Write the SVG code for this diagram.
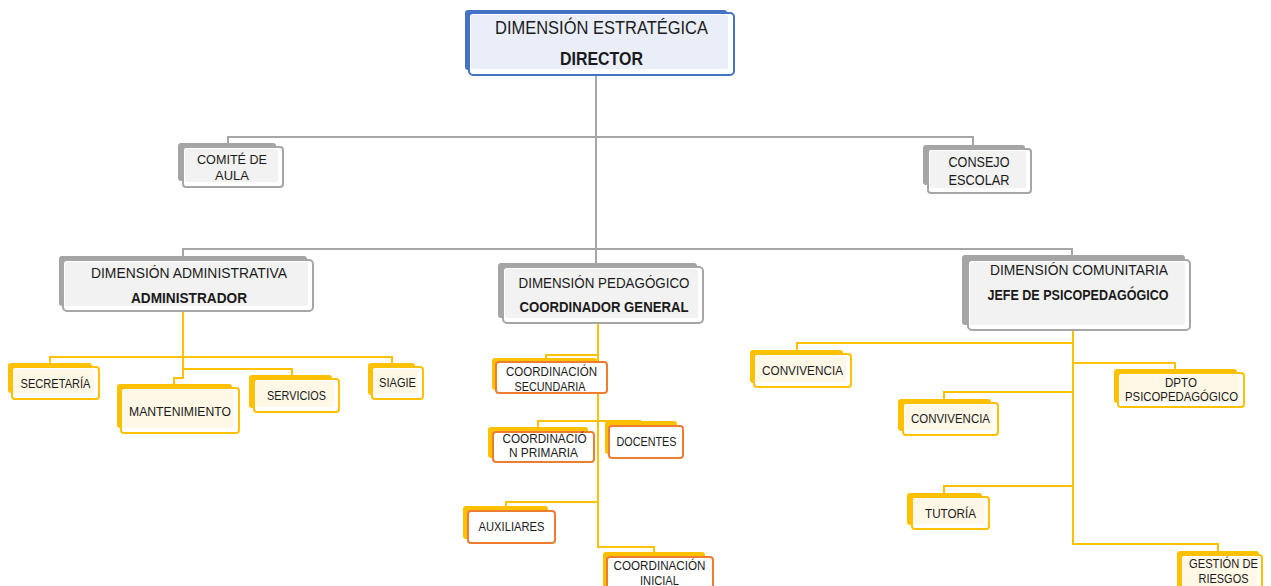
<svg xmlns="http://www.w3.org/2000/svg" width="1271" height="586" viewBox="0 0 1271 586">
<style>
.t{font-family:"Liberation Sans",Arial,sans-serif;fill:#1a1a1a;text-anchor:middle}
.s{font-size:13px}
.m{font-size:14.5px}
.l{font-size:18px}
.b{font-weight:bold}
.shg{fill:#A5A5A5}
.mng{fill:#fff;stroke:#A6A6A6;stroke-width:2}
.ing{fill:#F2F2F2}
.shy{fill:#FFC000}
.mny{fill:#fff;stroke:#FFC000;stroke-width:2}
.iny{fill:#FFF8E6}
.mno{fill:#fff;stroke:#ED7D31;stroke-width:2}
.shb{fill:#4472C4}
.mnb{fill:#fff;stroke:#4472C4;stroke-width:2}
.inb{fill:#E9EEF8}
.gl{fill:none;stroke:#A6A6A6;stroke-width:2}
.yl{fill:none;stroke:#FFC000;stroke-width:2}
</style>
<rect width="1271" height="586" fill="#fff"/>
<g id="connectors">
<path class="gl" d="M596 75V263"/>
<path class="gl" d="M228 143V137H973V145"/>
<path class="gl" d="M183 257V249H1072V256"/>
<path class="yl" d="M183 311V378H174V384"/>
<path class="yl" d="M50 363V357H392V363"/>
<path class="yl" d="M183 369H292V375"/>
<path class="yl" d="M598 323V547H654V552"/>
<path class="yl" d="M546 358V355H598"/>
<path class="yl" d="M538 427V421H640V422"/>
<path class="yl" d="M506 506V502H598"/>
<path class="yl" d="M1073 330V544H1218V551"/>
<path class="yl" d="M797 350V343H1073"/>
<path class="yl" d="M1073 363H1175V369"/>
<path class="yl" d="M944 399V392H1073"/>
<path class="yl" d="M944 493V486H1073"/>
</g>
<g id="director">
<rect class="shb" x="465" y="10" width="262" height="60" rx="3"/>
<rect class="mnb" x="469" y="13" width="265" height="62" rx="4"/>
<rect class="inb" x="471" y="15" width="257" height="54" rx="2"/>
<text class="t l" x="601.5" y="34" textLength="213" lengthAdjust="spacingAndGlyphs">DIMENSIÓN ESTRATÉGICA</text>
<text class="t l b" x="601.5" y="65" textLength="83" lengthAdjust="spacingAndGlyphs">DIRECTOR</text>
</g>
<g id="comite">
<rect class="shg" x="178" y="143" width="98" height="38" rx="3"/>
<rect class="mng" x="183" y="147" width="100" height="40" rx="3"/>
<rect class="ing" x="185" y="149" width="93" height="33" rx="2"/>
<text class="t s" x="232" y="164" textLength="70" lengthAdjust="spacingAndGlyphs">COMITÉ DE</text>
<text class="t s" x="232" y="180" textLength="34" lengthAdjust="spacingAndGlyphs">AULA</text>
</g>
<g id="consejo">
<rect class="shg" x="923" y="145" width="102" height="40" rx="3"/>
<rect class="mng" x="928" y="149" width="103" height="44" rx="3"/>
<rect class="ing" x="930" y="151" width="96" height="37" rx="2"/>
<text class="t m" x="979" y="167" textLength="61" lengthAdjust="spacingAndGlyphs">CONSEJO</text>
<text class="t m" x="979" y="185" textLength="61" lengthAdjust="spacingAndGlyphs">ESCOLAR</text>
</g>
<g id="administrativa">
<rect class="shg" x="59" y="256" width="248" height="50" rx="3"/>
<rect class="mng" x="63" y="260" width="250" height="51" rx="4"/>
<rect class="ing" x="65" y="262" width="243" height="44" rx="2"/>
<text class="t m" x="189" y="278" textLength="196" lengthAdjust="spacingAndGlyphs">DIMENSIÓN ADMINISTRATIVA</text>
<text class="t m b" x="189" y="303" textLength="116" lengthAdjust="spacingAndGlyphs">ADMINISTRADOR</text>
</g>
<g id="pedagogico">
<rect class="shg" x="498" y="263" width="199" height="55" rx="3"/>
<rect class="mng" x="503" y="267" width="200" height="56" rx="4"/>
<rect class="ing" x="505" y="269" width="193" height="49" rx="2"/>
<text class="t m" x="604" y="288" textLength="171" lengthAdjust="spacingAndGlyphs">DIMENSIÓN PEDAGÓGICO</text>
<text class="t m b" x="604" y="312" textLength="169" lengthAdjust="spacingAndGlyphs">COORDINADOR GENERAL</text>
</g>
<g id="comunitaria">
<rect class="shg" x="962" y="255" width="223" height="70" rx="3"/>
<rect class="mng" x="968" y="260" width="222" height="70" rx="4"/>
<rect class="ing" x="970" y="262" width="215" height="63" rx="2"/>
<text class="t m" x="1079" y="275" textLength="178" lengthAdjust="spacingAndGlyphs">DIMENSIÓN COMUNITARIA</text>
<text class="t m b" x="1078" y="300" textLength="181" lengthAdjust="spacingAndGlyphs">JEFE DE PSICOPEDAGÓGICO</text>
</g>
<g id="secretaria">
<rect class="shy" x="8" y="363" width="84" height="30" rx="3"/>
<rect class="mny" x="12" y="367" width="87" height="32" rx="3"/>
<rect class="iny" x="14" y="369" width="80" height="25" rx="2"/>
<text class="t s" x="55.5" y="388" textLength="70" lengthAdjust="spacingAndGlyphs">SECRETARÍA</text>
</g>
<g id="mantenimiento">
<rect class="shy" x="117" y="384" width="115" height="44" rx="3"/>
<rect class="mny" x="121" y="388" width="118" height="45" rx="3"/>
<rect class="iny" x="123" y="390" width="111" height="38" rx="2"/>
<text class="t s" x="180" y="416" textLength="102" lengthAdjust="spacingAndGlyphs">MANTENIMIENTO</text>
</g>
<g id="servicios">
<rect class="shy" x="249" y="375" width="83" height="33" rx="3"/>
<rect class="mny" x="254" y="379" width="85" height="33" rx="3"/>
<rect class="iny" x="256" y="381" width="78" height="26" rx="2"/>
<text class="t s" x="296.5" y="400" textLength="59" lengthAdjust="spacingAndGlyphs">SERVICIOS</text>
</g>
<g id="siagie">
<rect class="shy" x="368" y="363" width="47" height="32" rx="3"/>
<rect class="mny" x="372" y="367" width="51" height="32" rx="3"/>
<rect class="iny" x="374" y="369" width="44" height="25" rx="2"/>
<text class="t s" x="397.5" y="387" textLength="37" lengthAdjust="spacingAndGlyphs">SIAGIE</text>
</g>
<g id="coord-secundaria">
<rect class="shy" x="492" y="358" width="105" height="32" rx="3"/>
<rect class="mno" x="496" y="362" width="111" height="31" rx="3"/>
<text class="t s" x="551.5" y="376" textLength="91" lengthAdjust="spacingAndGlyphs">COORDINACIÓN</text>
<text class="t s" x="550" y="391" textLength="71" lengthAdjust="spacingAndGlyphs">SECUNDARIA</text>
</g>
<g id="coord-primaria">
<rect class="shy" x="488" y="427" width="100" height="31" rx="3"/>
<rect class="mno" x="493" y="432" width="101" height="30" rx="3"/>
<text class="t s" x="544.5" y="443" textLength="84" lengthAdjust="spacingAndGlyphs">COORDINACIÓ</text>
<text class="t s" x="543.5" y="457" textLength="69" lengthAdjust="spacingAndGlyphs">N PRIMARIA</text>
</g>
<g id="docentes">
<rect class="shy" x="605" y="421" width="72" height="33" rx="3"/>
<rect class="mno" x="609" y="426" width="74" height="32" rx="3"/>
<text class="t s" x="646.5" y="446" textLength="60" lengthAdjust="spacingAndGlyphs">DOCENTES</text>
</g>
<g id="auxiliares">
<rect class="shy" x="463" y="506" width="85" height="33" rx="3"/>
<rect class="mno" x="468" y="511" width="87" height="32" rx="3"/>
<text class="t s" x="511.5" y="531" textLength="66" lengthAdjust="spacingAndGlyphs">AUXILIARES</text>
</g>
<g id="coord-inicial">
<rect class="shy" x="603" y="552" width="102" height="40" rx="3"/>
<rect class="mno" x="607" y="557" width="106" height="40" rx="3"/>
<text class="t s" x="659.5" y="570" textLength="92" lengthAdjust="spacingAndGlyphs">COORDINACIÓN</text>
<text class="t s" x="659.5" y="585" textLength="39" lengthAdjust="spacingAndGlyphs">INICIAL</text>
</g>
<g id="convivencia-1">
<rect class="shy" x="750" y="350" width="93" height="33" rx="3"/>
<rect class="mny" x="754" y="354" width="97" height="33" rx="3"/>
<rect class="iny" x="756" y="356" width="90" height="26" rx="2"/>
<text class="t s" x="802.5" y="375" textLength="81" lengthAdjust="spacingAndGlyphs">CONVIVENCIA</text>
</g>
<g id="dpto-psicopedagogico">
<rect class="shy" x="1114" y="369" width="123" height="34" rx="3"/>
<rect class="mny" x="1118" y="373" width="126" height="34" rx="3"/>
<rect class="iny" x="1120" y="375" width="119" height="27" rx="2"/>
<text class="t s" x="1181" y="387" textLength="32" lengthAdjust="spacingAndGlyphs">DPTO</text>
<text class="t s" x="1181.5" y="401" textLength="113" lengthAdjust="spacingAndGlyphs">PSICOPEDAGÓGICO</text>
</g>
<g id="convivencia-2">
<rect class="shy" x="898" y="399" width="93" height="32" rx="3"/>
<rect class="mny" x="903" y="403" width="95" height="32" rx="3"/>
<rect class="iny" x="905" y="405" width="88" height="25" rx="2"/>
<text class="t s" x="950.5" y="423" textLength="79" lengthAdjust="spacingAndGlyphs">CONVIVENCIA</text>
</g>
<g id="tutoria">
<rect class="shy" x="907" y="493" width="75" height="32" rx="3"/>
<rect class="mny" x="912" y="497" width="77" height="32" rx="3"/>
<rect class="iny" x="914" y="499" width="70" height="25" rx="2"/>
<text class="t s" x="950.5" y="518" textLength="51" lengthAdjust="spacingAndGlyphs">TUTORÍA</text>
</g>
<g id="gestion-riesgos">
<rect class="shy" x="1177" y="551" width="82" height="40" rx="3"/>
<rect class="mny" x="1181" y="555" width="81" height="40" rx="3"/>
<rect class="iny" x="1183" y="557" width="74" height="33" rx="2"/>
<text class="t s" x="1223.5" y="568" textLength="69" lengthAdjust="spacingAndGlyphs">GESTIÓN DE</text>
<text class="t s" x="1223.5" y="583" textLength="50" lengthAdjust="spacingAndGlyphs">RIESGOS</text>
</g>
</svg>
